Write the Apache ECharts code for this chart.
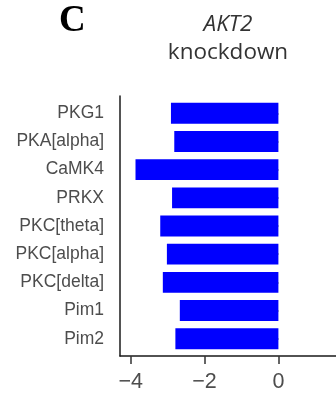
<!DOCTYPE html>
<html>
<head>
<meta charset="utf-8">
<script src="https://cdn.jsdelivr.net/npm/echarts@6/dist/echarts.min.js"></script>
<style>
  html, body { margin: 0; padding: 0; background: #fff; }
  #chart { width: 336px; height: 393px; }
</style>
</head>
<body>
<div id="chart"></div>
<script>
// Kinases, top to bottom
const kinases = ['PKG1', 'PKA[alpha]', 'CaMK4', 'PRKX', 'PKC[theta]', 'PKC[alpha]', 'PKC[delta]', 'Pim1', 'Pim2'];
// Score per kinase after knockdown
const scores = [-2.91, -2.82, -3.87, -2.88, -3.20, -3.02, -3.13, -2.67, -2.79];
// x-axis ticks and their labels
const xTickValues = [-4, -2, 0];
const xTickLabels = ['\u22124', '\u22122', '0'];

const X_MIN = -4.29, X_MAX = 1.56;
const labelFont = 'Liberation Sans, Arial, sans-serif';

const chart = echarts.init(document.getElementById('chart'), null, { renderer: 'canvas' });
chart.setOption({
  animation: false,
  backgroundColor: '#ffffff',
  title: [
    {
      text: 'C', left: 59, top: 3, padding: 0,
      textStyle: { fontFamily: 'Liberation Serif, serif', fontWeight: 'bold', fontSize: 37, color: '#000' }
    },
    {
      text: '{i|AKT2}\nknockdown', left: 228, top: 11, textAlign: 'center', padding: 0,
      textStyle: {
        fontFamily: 'Open Sans, sans-serif', fontSize: 22.5, fontWeight: 'normal', color: '#333', lineHeight: 28,
        rich: { i: { fontStyle: 'italic', fontFamily: 'Open Sans, sans-serif', fontSize: 22.5, color: '#333', lineHeight: 28 } }
      }
    }
  ],
  grid: [
    // bar panel (categories placed with discrete padding inside the axis frame)
    { left: 120, right: 0, top: 99.2, bottom: 40.2, containLabel: false },
    // axis frame
    { left: 120, right: 0, top: 96, bottom: 37, containLabel: false }
  ],
  xAxis: [
    { gridIndex: 0, type: 'value', min: X_MIN, max: X_MAX, show: false },
    {
      gridIndex: 1, type: 'value', min: X_MIN, max: X_MAX,
      axisLine: { show: true, onZero: false, lineStyle: { color: '#1a1a1a', width: 1.5 } },
      axisTick: { show: true, length: 8, customValues: xTickValues, lineStyle: { color: '#333', width: 1.5 } },
      axisLabel: {
        show: true, customValues: xTickValues, margin: 15,
        formatter: v => xTickLabels[xTickValues.indexOf(v)],
        fontFamily: labelFont, fontSize: 21.5, color: '#4d4d4d'
      },
      splitLine: { show: false }
    }
  ],
  yAxis: [
    {
      gridIndex: 0, type: 'category', data: kinases, inverse: true,
      axisLine: { show: false },
      axisTick: { show: true, alignWithLabel: true, length: 8, lineStyle: { color: '#333', width: 1.5 } },
      axisLabel: { margin: 16, fontFamily: labelFont, fontSize: 17.5, color: '#4d4d4d' },
      splitLine: { show: false }
    },
    {
      gridIndex: 1, type: 'value', min: 0, max: 1,
      axisLine: { show: true, onZero: false, lineStyle: { color: '#1a1a1a', width: 1.5 } },
      axisTick: { show: false }, axisLabel: { show: false }, splitLine: { show: false }
    }
  ],
  series: [
    {
      type: 'bar', xAxisIndex: 0, yAxisIndex: 0,
      data: scores, barWidth: '74%',
      itemStyle: { color: '#0000ff' }
    }
  ]
});
</script>
</body>
</html>
